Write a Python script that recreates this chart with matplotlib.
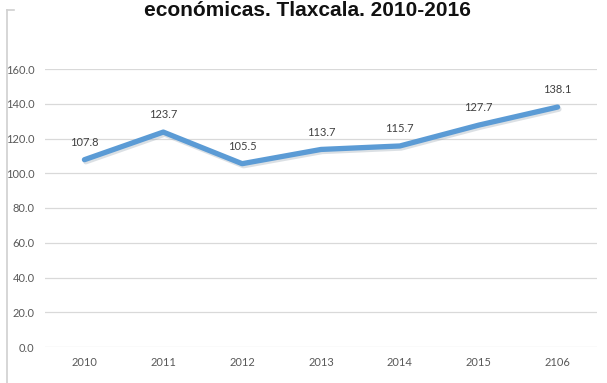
import matplotlib
matplotlib.use("Agg")
import matplotlib.pyplot as plt
import matplotlib.patheffects as pe
from matplotlib.lines import Line2D

categories = ["2010", "2011", "2012", "2013", "2014", "2015", "2106"]
values = [107.8, 123.7, 105.5, 113.7, 115.7, 127.7, 138.1]
yticks = [0, 20, 40, 60, 80, 100, 120, 140, 160]
title = "económicas. Tlaxcala. 2010-2016"

W, H = 607, 383
fig = plt.figure(figsize=(W / 100, H / 100), dpi=100)
ax = fig.add_axes([45 / W, 1 - 347 / H, (597 - 45) / W, (347 - 69) / H])

x = list(range(len(categories)))
line_color = "#5B9BD5"
ax.plot(x, values, color=line_color, linewidth=3.8, solid_capstyle="round",
        solid_joinstyle="round", zorder=3,
        path_effects=[pe.SimpleLineShadow(offset=(1, -1.5), shadow_color="#9aa7b4", alpha=0.35),
                      pe.Normal()])

for xi, v in zip(x, values):
    ax.annotate(f"{v:.1f}", (xi, v), xytext=(0, 8.5), textcoords="offset points",
                ha="center", va="bottom", fontsize=8, color="#404040", family="Lato")

ax.set_xlim(-0.5, len(categories) - 0.5)
ax.set_ylim(0, 160)
ax.set_yticks(yticks)
ax.set_yticklabels([f"{t:.1f}" for t in yticks])
ax.set_xticks(x)
ax.set_xticklabels(categories)
ax.tick_params(axis="both", length=0, labelsize=8, labelcolor="#595959")
ax.tick_params(axis="y", pad=7.5)
ax.tick_params(axis="x", pad=7.5)
for lab in ax.get_xticklabels() + ax.get_yticklabels():
    lab.set_family("Lato")
ax.grid(axis="y", color="#d9d9d9", linewidth=0.9)
ax.set_axisbelow(True)
for s in ax.spines.values():
    s.set_visible(False)

# chart area border (left and top edges visible)
fig.add_artist(Line2D([6.5 / W, 6.5 / W], [0, 1 - 10 / H], color="#d0d0d0", linewidth=1.2))
fig.add_artist(Line2D([6.5 / W, 14 / W], [1 - 10 / H, 1 - 10 / H], color="#d0d0d0", linewidth=1.2))

fig.text(0.507, 1 - 1 / H, title, ha="center", va="top", fontsize=15,
         fontweight="bold", family="Liberation Sans", color="#111111")

fig.savefig("out.png", dpi=100)
